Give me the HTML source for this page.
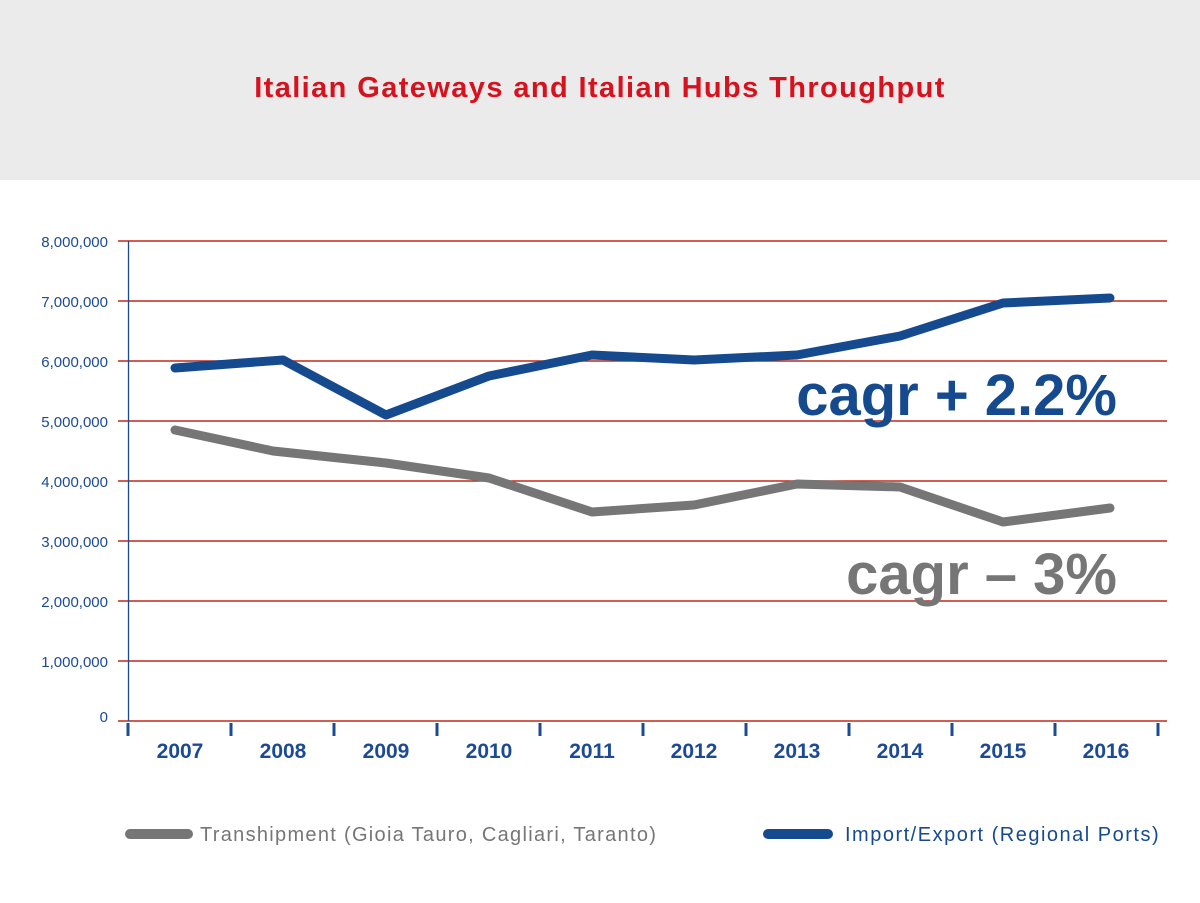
<!DOCTYPE html>
<html><head><meta charset="utf-8"><style>
html,body{margin:0;padding:0;background:#fff;}
body{width:1200px;height:903px;overflow:hidden;position:relative;font-family:"Liberation Sans",sans-serif;}
.hdr{position:absolute;left:0;top:0;width:1200px;height:180px;background:#ebebeb;}
</style></head><body>
<div class="hdr"></div>
<svg width="1200" height="903" style="position:absolute;left:0;top:0" font-family="Liberation Sans, sans-serif">
<text x="600" y="97" text-anchor="middle" font-size="29" font-weight="bold" fill="#d7121f" letter-spacing="1.4">Italian Gateways and Italian Hubs Throughput</text>
<g stroke="#c0281a" stroke-width="1.4">
<line x1="118" y1="241" x2="1167" y2="241"/><line x1="118" y1="301" x2="1167" y2="301"/>
<line x1="118" y1="361" x2="1167" y2="361"/><line x1="118" y1="421" x2="1167" y2="421"/>
<line x1="118" y1="481" x2="1167" y2="481"/><line x1="118" y1="541" x2="1167" y2="541"/>
<line x1="118" y1="601" x2="1167" y2="601"/><line x1="118" y1="661" x2="1167" y2="661"/>
<line x1="118" y1="721" x2="1167" y2="721"/>
</g>
<line x1="128.5" y1="241" x2="128.5" y2="721" stroke="#1c4a94" stroke-width="1.3"/>
<g stroke="#1c4a94" stroke-width="3">
<line x1="128" y1="723" x2="128" y2="736"/><line x1="231" y1="723" x2="231" y2="736"/><line x1="334" y1="723" x2="334" y2="736"/><line x1="437" y1="723" x2="437" y2="736"/><line x1="540" y1="723" x2="540" y2="736"/><line x1="643" y1="723" x2="643" y2="736"/><line x1="746" y1="723" x2="746" y2="736"/><line x1="849" y1="723" x2="849" y2="736"/><line x1="952" y1="723" x2="952" y2="736"/><line x1="1055" y1="723" x2="1055" y2="736"/><line x1="1158" y1="723" x2="1158" y2="736"/>
</g>
<g font-size="15" fill="#1c4a94" text-anchor="end">
<text x="108" y="247">8,000,000</text><text x="108" y="307">7,000,000</text><text x="108" y="367">6,000,000</text><text x="108" y="427">5,000,000</text><text x="108" y="487">4,000,000</text><text x="108" y="547">3,000,000</text><text x="108" y="607">2,000,000</text><text x="108" y="667">1,000,000</text><text x="108" y="722">0</text>
</g>
<g font-size="21" font-weight="bold" fill="#1c4a94" text-anchor="middle">
<text x="180" y="758">2007</text><text x="283" y="758">2008</text><text x="386" y="758">2009</text><text x="489" y="758">2010</text><text x="592" y="758">2011</text><text x="694" y="758">2012</text><text x="797" y="758">2013</text><text x="900" y="758">2014</text><text x="1003" y="758">2015</text><text x="1106" y="758">2016</text>
</g>
<polyline fill="none" stroke="#767676" stroke-width="9" stroke-linecap="round" stroke-linejoin="round" points="175,430 273,451 386,463 489,478 592,512 694,505 797,484 900,487 1003,522 1110,508"/>
<polyline fill="none" stroke="#164a8e" stroke-width="9" stroke-linecap="round" stroke-linejoin="round" points="175,368 283,360 386,415 489,376 592,355 694,360 797,355 900,336 1003,303 1110,298"/>
<text x="1117" y="415" text-anchor="end" font-size="58" font-weight="bold" fill="#164a8e">cagr + 2.2%</text>
<text x="1117" y="594" text-anchor="end" font-size="58" font-weight="bold" fill="#767676">cagr – 3%</text>
<line x1="130" y1="834" x2="188" y2="834" stroke="#767676" stroke-width="10" stroke-linecap="round"/>
<text x="200" y="841" font-size="20" fill="#767676" letter-spacing="1.3">Transhipment (Gioia Tauro, Cagliari, Taranto)</text>
<line x1="768" y1="834" x2="828" y2="834" stroke="#164a8e" stroke-width="10" stroke-linecap="round"/>
<text x="845" y="841" font-size="20" fill="#164a8e" letter-spacing="1.5">Import/Export (Regional Ports)</text>
</svg>
</body></html>
